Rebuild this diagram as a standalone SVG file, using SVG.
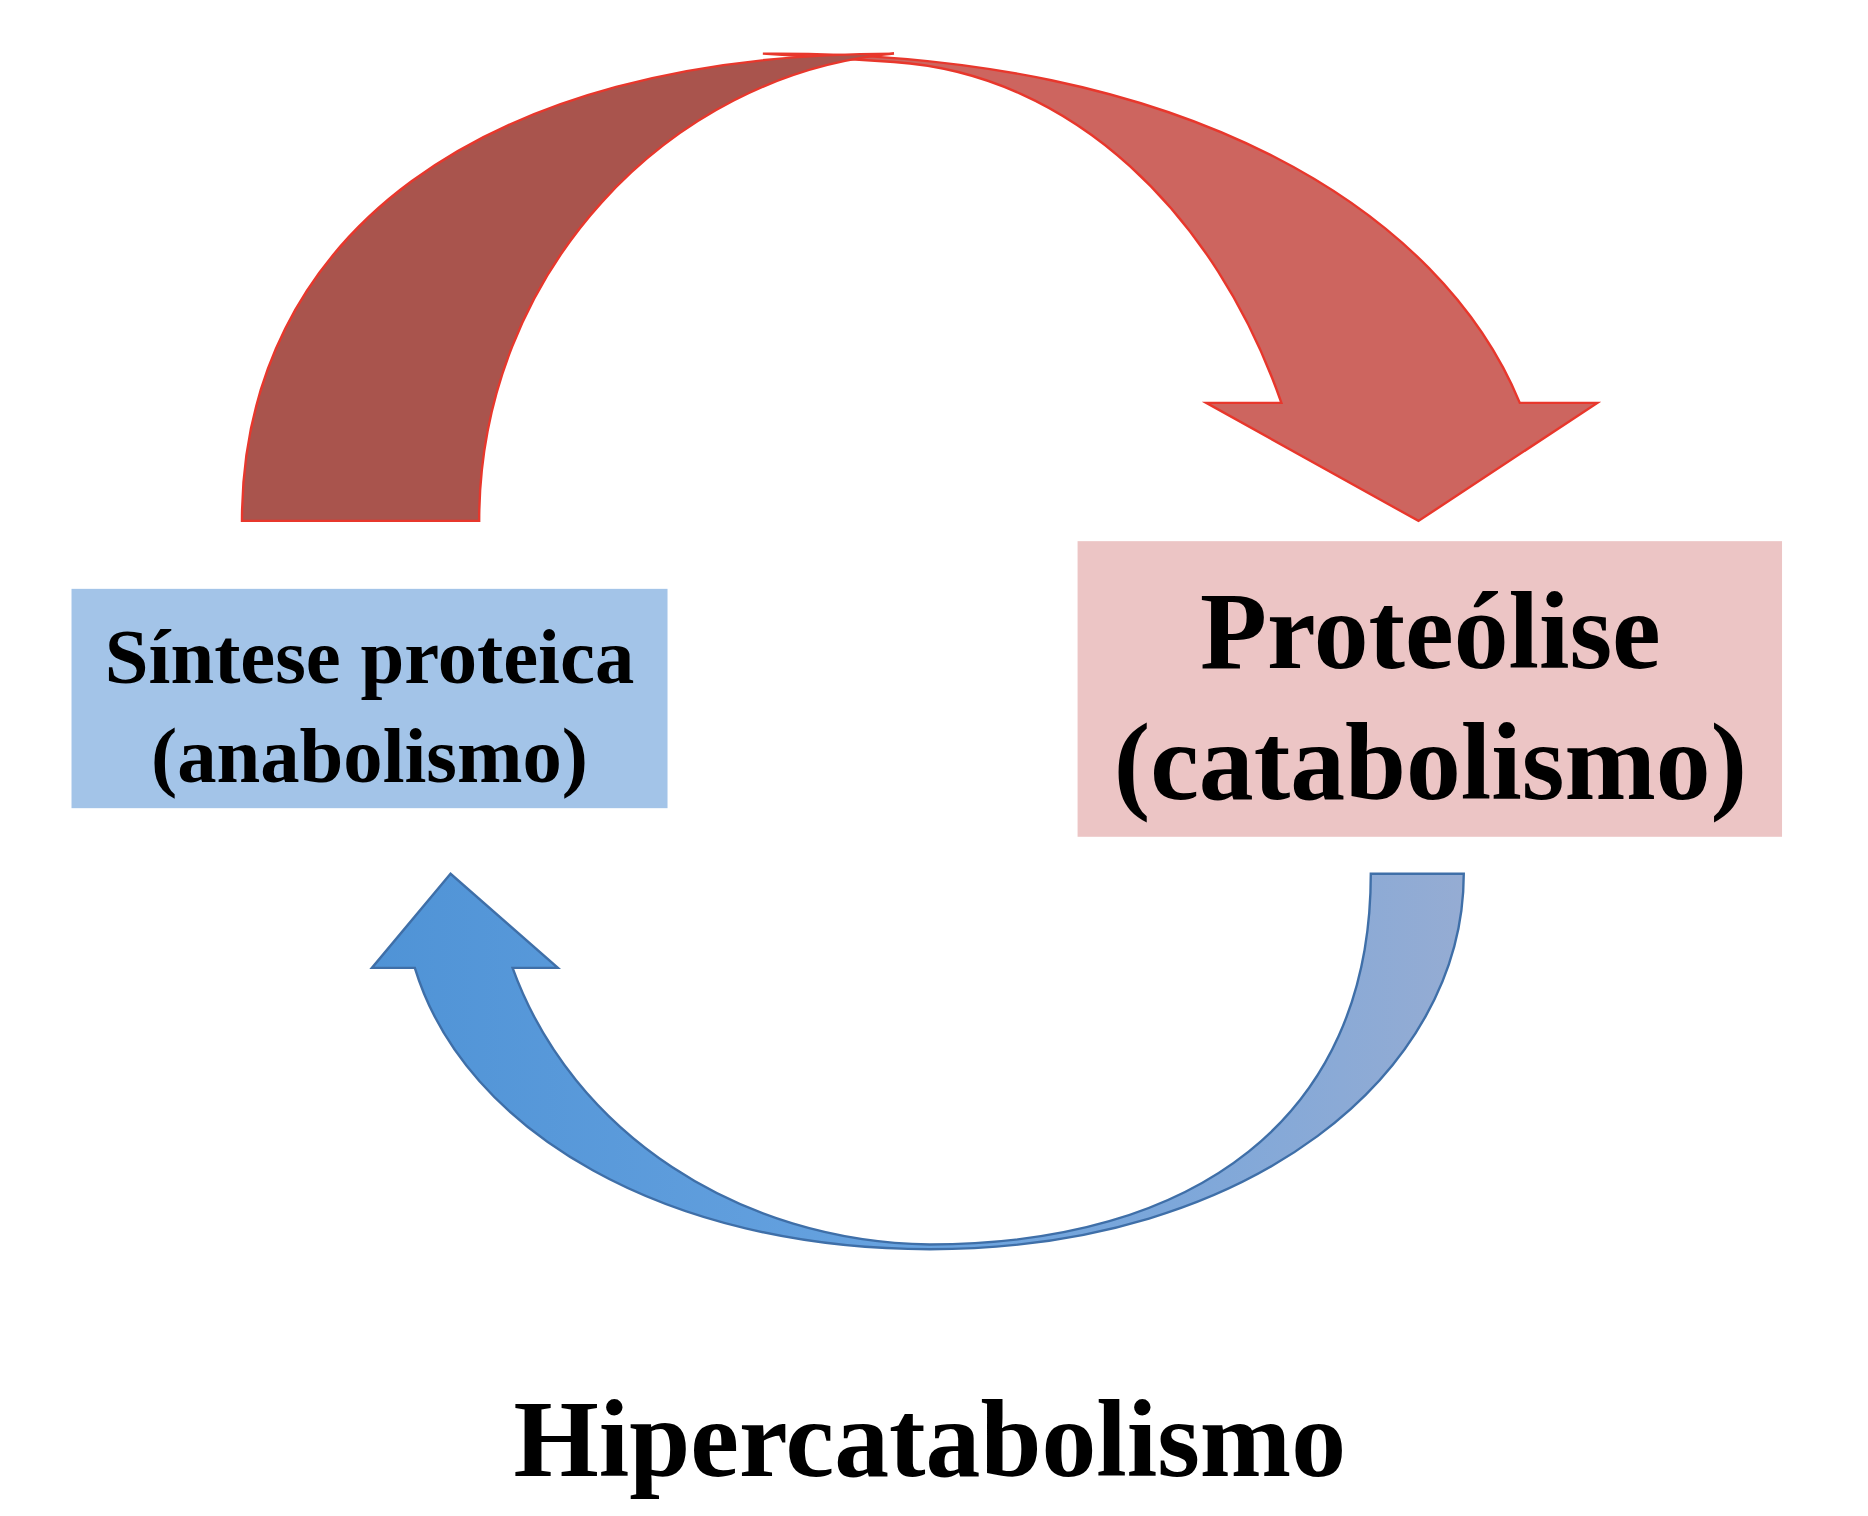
<svg xmlns="http://www.w3.org/2000/svg" width="1868" height="1516" viewBox="0 0 1868 1516">
<style>
text{font-family:"Liberation Serif","Times New Roman",serif;font-weight:bold;fill:#000;text-anchor:middle}
</style>
<defs>
<linearGradient id="bg" x1="0" y1="0" x2="1" y2="0">
<stop offset="0" stop-color="#4f93d6"/><stop offset="0.5" stop-color="#68a3e0"/><stop offset="1" stop-color="#95acd3"/>
</linearGradient>
</defs>
<rect width="1868" height="1516" fill="#fff"/>
<g transform="scale(1.192)">
<g id="connectors">
<path id="red-right" d="M640,45 C1000,42 1210,180 1275,338 L1340,338 L1190,437 L1012,338 L1075,338 C1020,180 900,62 750,52 Z" fill="#cd655f" stroke="#e8372c" stroke-width="2"/>
<path id="red-left" d="M203,437 C203,200 400,45 750,45 C560,62 402,230 402,437 Z" fill="#a9544d" stroke="#e8372c" stroke-width="2"/>
<path id="blue" d="M1228,733 C1228,900 1050,1048 780,1048 C560,1048 390,950 348,812 L312,812 L378,733 L468,812 L430,812 C480,950 620,1042 780,1044 C1000,1044 1150,940 1150,733 Z" fill="url(#bg)" stroke="#3f6fa8" stroke-width="2"/>
</g>
<g id="sintese">
<rect x="60" y="494" width="500" height="184" fill="#a3c4e8"/>
<text x="310" y="573" font-size="66">Síntese proteica</text>
<text x="310" y="656" font-size="66">(anabolismo)</text>
</g>
<g id="proteolise">
<rect x="904" y="454" width="591" height="248" fill="#ecc5c5"/>
<text x="1200" y="560" font-size="92">Proteólise</text>
<text x="1200" y="670" font-size="92">(catabolismo)</text>
</g>
<g id="title">
<text x="780" y="1238" font-size="92">Hipercatabolismo</text>
</g>
</g>
</svg>
